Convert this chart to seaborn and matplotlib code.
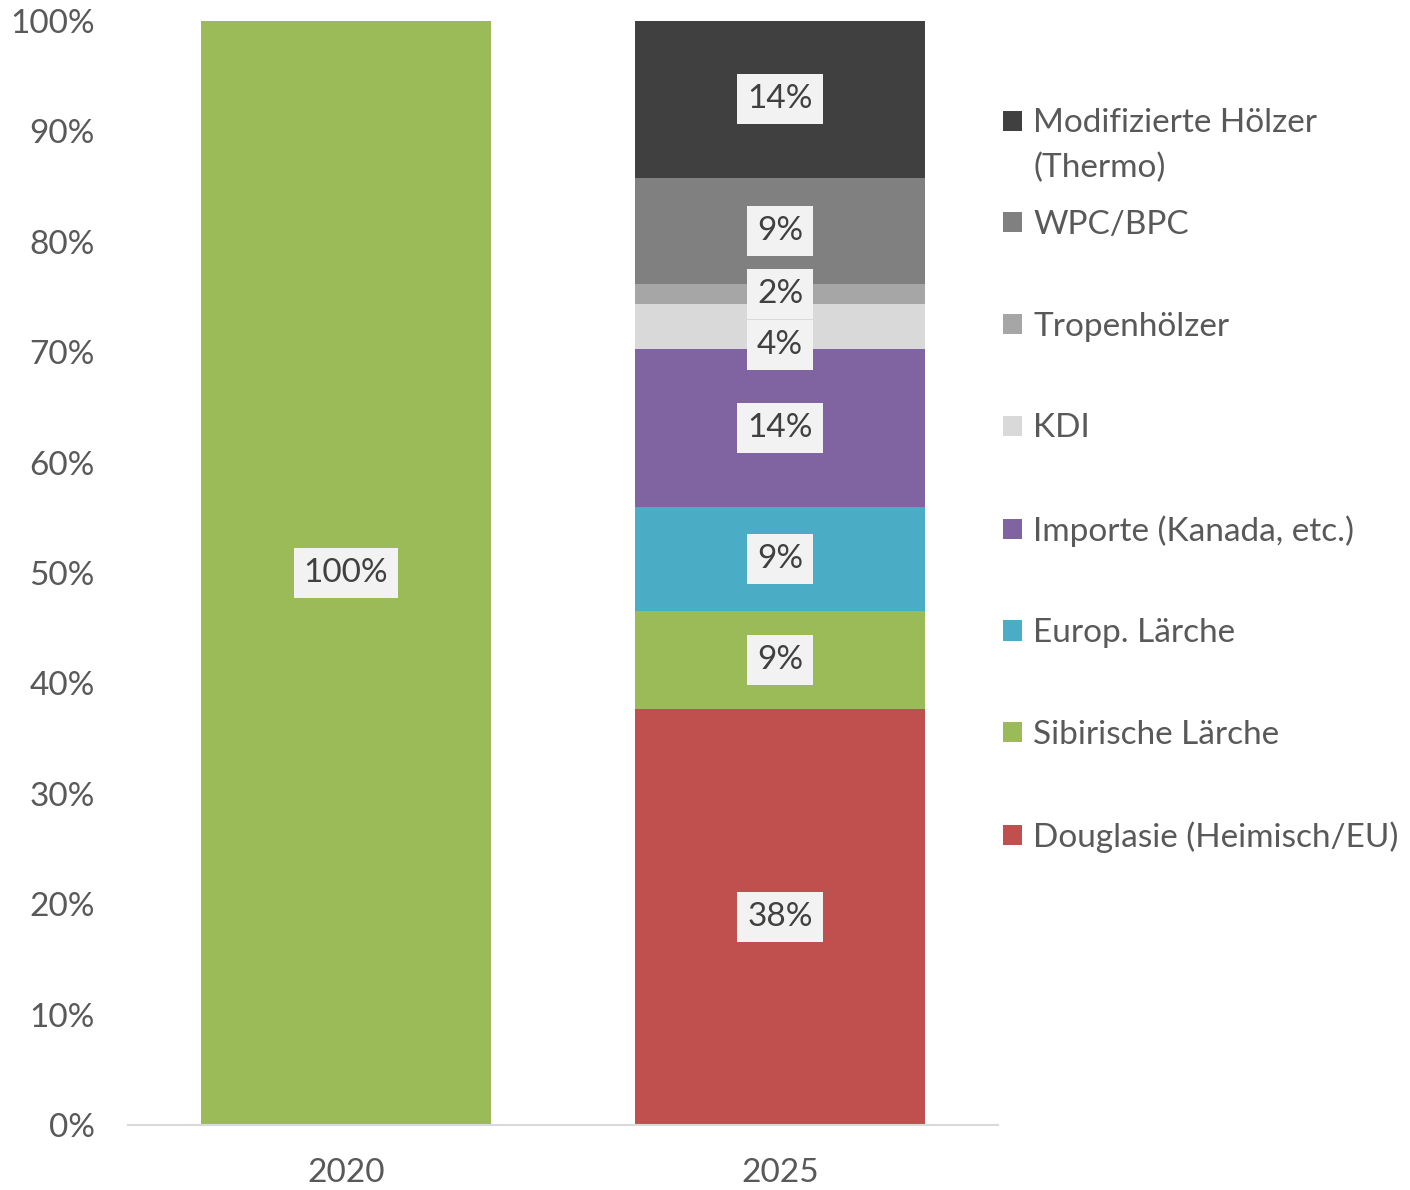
import pandas as pd
import seaborn as sns
import matplotlib.pyplot as plt
from matplotlib.patches import Patch
from matplotlib.transforms import IdentityTransform

years = ["2020", "2025"]
species = ["Douglasie (Heimisch/EU)", "Sibirische Lärche", "Europ. Lärche",
           "Importe (Kanada, etc.)", "KDI", "Tropenhölzer", "WPC/BPC",
           "Modifizierte Hölzer (Thermo)"]
share_2020 = [0, 100, 0, 0, 0, 0, 0, 0]
share_2025 = [37.7, 8.9, 9.4, 14.3, 4.1, 1.8, 9.6, 14.2]
labels_2020 = ["", "100%", "", "", "", "", "", ""]
labels_2025 = ["38%", "9%", "9%", "14%", "4%", "2%", "9%", "14%"]
colors = ["#C0504D", "#9BBB59", "#4BACC6", "#8064A2",
          "#D9D9D9", "#A6A6A6", "#808080", "#404040"]

sns.set_style("white")
plt.rcParams['font.family'] = ['Lato', 'DejaVu Sans']

rows = []
for year, shares, labels in [("2020", share_2020, labels_2020), ("2025", share_2025, labels_2025)]:
    bottom = 0
    for sp, val, lab in zip(species, shares, labels):
        rows.append(dict(year=year, species=sp, share=val, bottom=bottom, top=bottom + val, label=lab))
        bottom += val
df = pd.DataFrame(rows)

fig = plt.figure(figsize=(14.1, 11.9), dpi=100)
ax = fig.add_axes([128 / 1410, 1 - 1125 / 1190, 870 / 1410, 1104 / 1190])

# stacked bars: draw cumulative tops from the top layer down
for sp, c in reversed(list(zip(species, colors))):
    sub = df[df.species == sp]
    sns.barplot(data=sub, x="year", y="top", order=years, color=c,
                saturation=1, width=0.668, edgecolor="none", ax=ax)

# value labels, KDI nudged down like in the original
nudge = {"KDI": -19}
for _, r in df.iterrows():
    if r.label == "":
        continue
    xi = years.index(r.year)
    ax.annotate(r.label, (xi, r.bottom + r.share / 2), xytext=(0, nudge.get(r.species, 0) * 0.72),
                textcoords="offset points", ha="center", va="center",
                fontsize=24, color="#404040",
                bbox=dict(boxstyle="square,pad=0.3", fc="#F2F2F2", ec="none"))

ax.set_xlim(-0.502, 1.502)
ax.set_ylim(0, 100)
ax.set_yticks(range(0, 101, 10))
ax.set_yticklabels([f"{v}%" for v in range(0, 101, 10)])
ax.set_xlabel("")
ax.set_ylabel("")
ax.tick_params(axis="both", length=0, labelsize=24, labelcolor="#595959")
ax.tick_params(axis="y", pad=24)
ax.tick_params(axis="x", pad=24)
sns.despine(ax=ax, left=True)
ax.spines["bottom"].set_color("#D9D9D9")
ax.spines["bottom"].set_linewidth(1.5)

# legend: the long label wraps onto a second line as in the original,
# without pushing the following rows down
wrap_at = "Modifizierte Hölzer (Thermo)"
first, second = "Modifizierte Hölzer", "(Thermo)"
handles = [Patch(facecolor=c, edgecolor="none", label=first if sp == wrap_at else sp)
           for sp, c in reversed(list(zip(species, colors)))]
leg = fig.legend(handles=handles, loc="upper left", bbox_to_anchor=(990 / 1410, 1 - 95 / 1190),
                 borderaxespad=0, frameon=False, fontsize=24, labelcolor="#595959",
                 handlelength=0.55, handleheight=0.55, handletextpad=0.35, labelspacing=2.15)
fig.canvas.draw()
t0 = leg.get_texts()[0]
x0, y0 = t0.get_transform().transform(t0.get_position())
fig.text(x0, y0 - 45, second, transform=IdentityTransform(), ha="left", va="baseline",
         fontsize=24, color="#595959")

fig.savefig("out.png", dpi=100)
